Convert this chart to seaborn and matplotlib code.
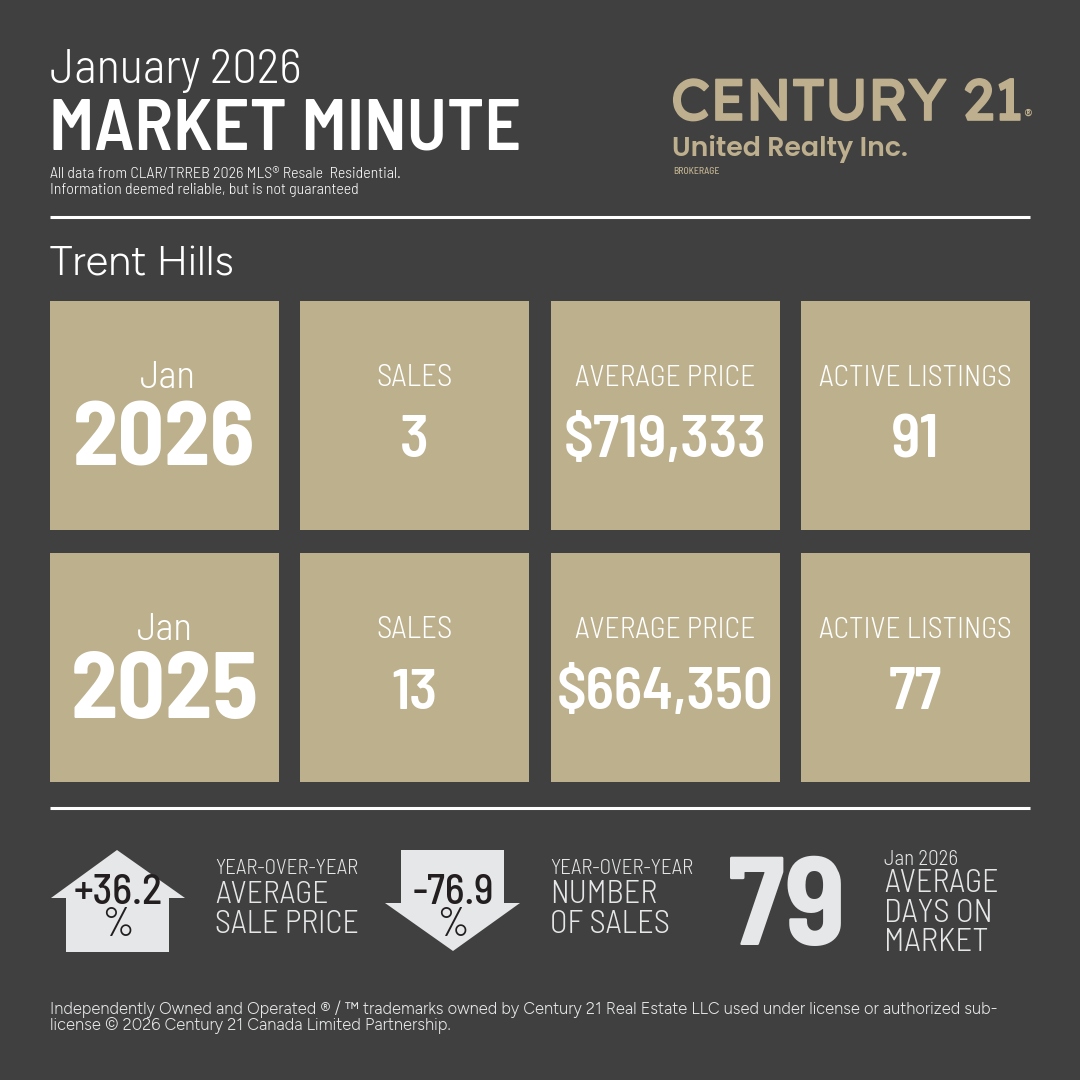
import matplotlib
matplotlib.use("Agg")
import matplotlib.pyplot as plt
import matplotlib.patheffects as pe
import seaborn as sns
from matplotlib.patches import Rectangle, Polygon
from matplotlib.textpath import TextPath
from matplotlib.font_manager import FontProperties

# ---- data ----
years = ["2026", "2025"]
months = ["Jan", "Jan"]
sales = ["3", "13"]
average_price = ["$719,333", "$664,350"]
active_listings = ["91", "77"]
tile_labels = ["SALES", "AVERAGE PRICE", "ACTIVE LISTINGS"]
yoy_price = "+36.2"
yoy_sales = "-76.9"
days_on_market = "79"

BG = "#404040"
TAN = "#BDB08D"
LOGO = "#BEB08E"
LIGHT = "#E6E7E8"
DARK = "#231F20"
WHITE = "#FFFFFF"

sns.set_theme(style="dark", rc={"figure.facecolor": BG, "axes.facecolor": BG})
fig = plt.figure(figsize=(10.8, 10.8), dpi=100, facecolor=BG)
ax = fig.add_axes([0, 0, 1, 1])
ax.set_xlim(0, 1080)
ax.set_ylim(1080, 0)
ax.axis("off")

SEMI = "Barlow Semi Condensed"
COND = "Barlow Condensed"
GEO = "Figtree"
LOGOF = "Poppins"


def label(x, base, s, cap=None, fam=SEMI, weight=400, color=WHITE, ha="left", width=None):
    """Place text on a baseline, sized by capital height or by total width in px."""
    fp = FontProperties(family=fam, weight=weight)
    if width is not None:
        w = TextPath((0, 0), s, size=100, prop=fp).get_extents().width / 100
        pt = width / w * 72 / 100
    else:
        h = TextPath((0, 0), "H", size=100, prop=fp).get_extents().height / 100
        pt = cap / h * 72 / 100
    return ax.text(x, base, s, fontsize=pt, family=fam, weight=weight,
                   color=color, ha=ha, va="baseline")


# ---- header ----
label(50, 83, "January 2026", fam=SEMI, weight=300, width=248)
label(49, 150, "MARKET MINUTE", fam=SEMI, weight=600, width=465)
label(50, 178, "All data from CLAR/TRREB 2026 MLS® Resale  Residential.", fam=SEMI, weight=300, width=350)
label(50, 194, "Information deemed reliable, but is not guaranteed", fam=SEMI, weight=300, width=307)
label(50, 275, "Trent Hills", 29, GEO, 300)

century = label(671, 120, "CENTURY 21", fam="Lexend Deca", weight=400, color=LOGO, width=346)
century.set_path_effects([pe.withStroke(linewidth=1.2, foreground=LOGO)])
label(1023, 121, "®", fam=LOGOF, weight=400, color=LOGO, width=7)
label(672, 156, "United Realty Inc.", fam=LOGOF, weight=600, color=LOGO, width=233)
label(673, 174, "BROKERAGE", fam=SEMI, weight=500, color=LOGO, width=45)

for y in (217, 808):
    ax.plot([50, 1030], [y, y], color=WHITE, lw=2.2, solid_capstyle="butt")

# ---- tiles ----
col_x = [50, 300, 551, 801]
row_y = [301, 553]
month_dx = [3.5, 0]
year_w = [177, 182]
T = 229
label_w = [73, 178, 190]
value_w = [[24, 198, 43], [42, 212, 51]]
for r, y0 in enumerate(row_y):
    for x0 in col_x:
        ax.add_patch(Rectangle((x0, y0), T, T, fc=TAN, ec="none"))
    cx = [x0 + T / 2 for x0 in col_x]
    label(cx[0] + month_dx[r], y0 + 87, months[r], fam=SEMI, weight=300, ha="center", width=52)
    label(cx[0], y0 + 165, years[r], fam=SEMI, weight=700, ha="center", width=year_w[r])
    values = [sales[r], average_price[r], active_listings[r]]
    for c, (name, val) in enumerate(zip(tile_labels, values), start=1):
        label(cx[c], y0 + 85, name, fam=SEMI, weight=300, ha="center", width=label_w[c - 1])
        label(cx[c], y0 + 156, val, fam=SEMI, weight=600, ha="center", width=value_w[r][c - 1])

# ---- bottom row ----
ax.add_patch(Polygon([(117, 850), (185, 898), (169, 898), (169, 952), (66, 952), (66, 898), (51, 898)],
                     closed=True, fc=LIGHT, ec="none"))
ax.add_patch(Polygon([(401, 850), (504, 850), (504, 903), (520, 903), (453, 951), (385, 903), (401, 903)],
                     closed=True, fc=LIGHT, ec="none"))
label(118, 904, yoy_price, fam=SEMI, weight=500, color=DARK, ha="center", width=86)
label(118, 936, "%", 28, COND, 400, DARK, "center")
label(453, 904, yoy_sales, fam=SEMI, weight=500, color=DARK, ha="center", width=78)
label(453, 936, "%", 28, COND, 400, DARK, "center")

label(215, 874, "YEAR-OVER-YEAR", fam=SEMI, weight=300, color=LIGHT, width=142)
label(215, 903, "AVERAGE", fam=SEMI, weight=300, color=LIGHT, width=111)
label(215, 933, "SALE PRICE", fam=SEMI, weight=300, color=LIGHT, width=141)
label(550, 874, "YEAR-OVER-YEAR", fam=SEMI, weight=300, color=LIGHT, width=142)
label(550, 903, "NUMBER", fam=SEMI, weight=300, color=LIGHT, width=103)
label(550, 933, "OF SALES", fam=SEMI, weight=300, color=LIGHT, width=116)

label(786.5, 945, days_on_market, fam=SEMI, weight=700, color=LIGHT, ha="center", width=111)
label(884, 865, "Jan 2026", fam=SEMI, weight=300, color=LIGHT, width=72)
label(884, 892, "AVERAGE", fam=SEMI, weight=300, color=LIGHT, width=112)
label(884, 922, "DAYS ON", fam=SEMI, weight=300, color=LIGHT, width=103)
label(884, 951, "MARKET", fam=SEMI, weight=300, color=LIGHT, width=100)

# ---- footer ----
label(50, 1014, "Independently Owned and Operated ® / ™ trademarks owned by Century 21 Real Estate LLC used under license or authorized sub-", fam=GEO, weight=300, color=LIGHT, width=942)
label(50, 1030, "license © 2026 Century 21 Canada Limited Partnership.", fam=GEO, weight=300, color=LIGHT, width=398)

fig.savefig("out.png", dpi=100, facecolor=BG)
